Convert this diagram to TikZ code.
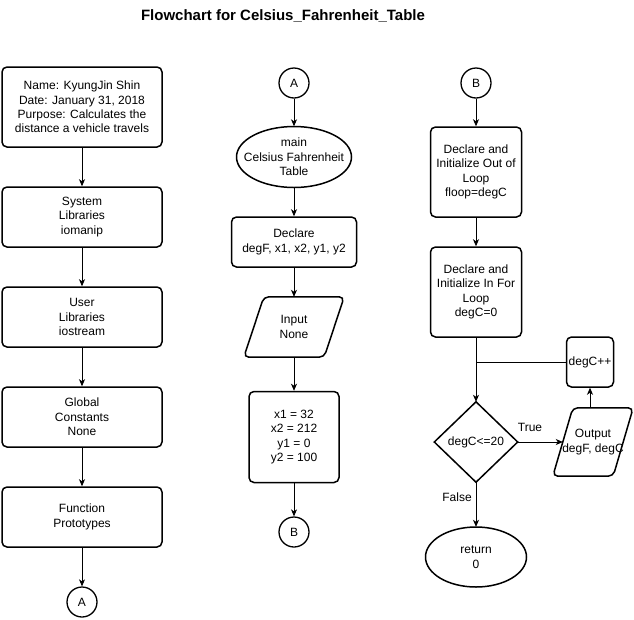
\documentclass[tikz,border=0pt]{standalone}
\usepackage{fontspec}
\setmainfont{Liberation Sans}
\usetikzlibrary{arrows.meta,calc}
\begin{document}
\begin{tikzpicture}[x=1pt,y=-1pt,
  txt/.style={font=\fontsize{12}{14.4}\selectfont, align=center, inner sep=0pt},
  box/.style={txt, draw, line width=1.5pt, rounded corners=5pt},
  hid/.style={txt, draw=none},
  shp/.style={line width=1.5pt, rounded corners=5pt},
  conn/.style={draw, line width=1.3pt, circle, minimum size=30pt, txt},
  arr/.style={line width=0.8pt, -{Stealth[length=7pt,width=6pt,inset=2pt]}},
  ln/.style={line width=0.8pt},
  lbl/.style={font=\fontsize{12}{14.4}\selectfont, inner sep=0pt}]
\useasboundingbox (0,0) rectangle (634,619);
\fill[white] (0,0) rectangle (634,619);

\node[font=\bfseries\fontsize{15}{18}\selectfont, inner sep=0pt] (title) at (283,16) {Flowchart for Celsius\_Fahrenheit\_Table};

% left column
\node[box, minimum width=160pt, minimum height=80pt] (n1) at (82,107) {Name: KyungJin Shin\\Date: January 31, 2018\\Purpose: Calculates the\\distance a vehicle travels};
\node[box, minimum width=160pt, minimum height=60pt] (n2) at (82,217) {System\\Libraries\\iomanip};
\node[box, minimum width=160pt, minimum height=60pt] (n3) at (82,317) {User\\Libraries\\iostream};
\node[box, minimum width=160pt, minimum height=60pt] (n4) at (82,417) {Global\\Constants\\None};
\node[box, minimum width=160pt, minimum height=60pt] (n5) at (82,517) {Function\\Prototypes};
\node[conn] (cA1) at (82,602) {A};

% middle column
\node[conn] (cA2) at (294,83) {A};
\node[hid, minimum width=115pt, minimum height=61pt] (main) at (294,157) {main\\Celsius Fahrenheit\\Table};
\draw[line width=1.5pt] (main.center) ellipse [x radius=57.5pt, y radius=30.5pt];
\node[box, minimum width=125pt, minimum height=50pt] (decl) at (294,242) {Declare\\degF, x1, x2, y1, y2};
\node[hid, minimum width=100pt, minimum height=60pt] (inp) at (294,327) {Input\\None};
\draw[shp] ([xshift=20pt]inp.north west) -- (inp.north east) -- ([xshift=-20pt]inp.south east) -- (inp.south west) -- cycle;
\node[box, minimum width=90pt, minimum height=91pt] (xbox) at (294,437) {x1 = 32\\x2 = 212\\y1 = 0\\y2 = 100};
\node[conn] (cB1) at (294,532) {B};

% right column
\node[conn] (cB2) at (476,83) {B};
\node[box, minimum width=91pt, minimum height=90pt] (d1) at (476,172) {Declare and\\Initialize Out of\\Loop\\floop=degC};
\node[box, minimum width=91pt, minimum height=90pt] (d2) at (476,292) {Declare and\\Initialize In For\\Loop\\degC=0};
\node[hid, minimum width=83pt, minimum height=80pt] (dia) at (476,442) {degC<=20};
\draw[line width=1.5pt] (dia.north) -- (dia.east) -- (dia.south) -- (dia.west) -- cycle;
\node[hid, minimum width=80pt, minimum height=68pt] (out) at (593,442) {Output\\degF, degC};
\draw[shp] ([xshift=20pt]out.north west) -- (out.north east) -- ([xshift=-20pt]out.south east) -- (out.south west) -- cycle;
\node[box, minimum width=47pt, minimum height=50pt] (inc) at (590,362) {degC++};
\node[hid, minimum width=101pt, minimum height=60pt] (ret) at (476,557) {return\\0};
\draw[line width=1.5pt] (ret.center) ellipse [x radius=50.5pt, y radius=30pt];

\node[lbl] (tlab) at (530,427) {True};
\node[lbl] (flab) at (457,497) {False};

% connectors
\draw[arr] (n1.south) -- (n2.north);
\draw[arr] (n2.south) -- (n3.north);
\draw[arr] (n3.south) -- (n4.north);
\draw[arr] (n4.south) -- (n5.north);
\draw[arr] (n5.south) -- (cA1.north);

\draw[arr] (cA2.south) -- (main.north);
\draw[arr] (main.south) -- (decl.north);
\draw[arr] (decl.south) -- (inp.north);
\draw[arr] (inp.south) -- (xbox.north);
\draw[arr] (xbox.south) -- (cB1.north);

\draw[arr] (cB2.south) -- (d1.north);
\draw[arr] (d1.south) -- (d2.north);
\draw[arr] (d2.south) -- (dia.north);
\coordinate (outL) at ($(out.west)+(10,0)$);
\draw[arr] (dia.east) -- (outL);
\draw[arr] (inc.south |- out.north) -- (inc.south);
\draw[ln] (inc.west) -- (d2.south |- inc.west);
\draw[arr] (dia.south) -- (ret.north);
\end{tikzpicture}
\end{document}
